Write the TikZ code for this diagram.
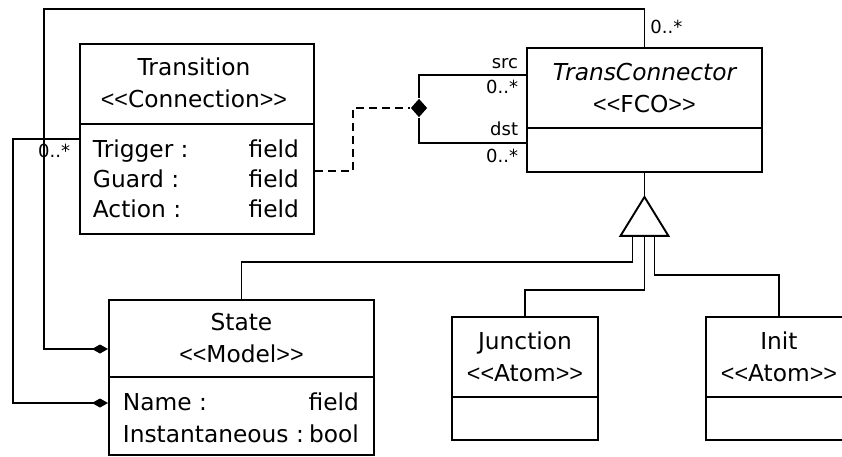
\documentclass[tikz,border=0pt]{standalone}
\usepackage{fontspec}
\setmainfont{DejaVu Sans}[Ligatures=TeXOff]
\newfontfamily\guilfont{Liberation Sans}
\newcommand{\stereo}[1]{{\guilfont<<}#1{\guilfont>>}}
\usetikzlibrary{arrows.meta,calc,shapes.geometric}
\tikzset{
	umlbox/.style={draw,anchor=north west},
	mult/.style={font=\fontsize{18}{20}\selectfont},
	has/.style={-{Diamond[length=16pt,width=9pt]}}
}
\begin{document}
\begin{tikzpicture}[x=1pt,y=-1pt,line width=1.9pt,inner sep=0pt,font=\fontsize{23.3}{30}\selectfont]
	\useasboundingbox (0,0) rectangle (842,456);
	\clip (0,0) rectangle (842,456);
	\node[umlbox,minimum width=234pt,minimum height=190pt] (trans) at (79,43) {};
	\draw ($(trans.north west)+(0,81)$) -- ($(trans.north east)+(0,81)$);
	\node[anchor=base] (trans-name) at ($(trans.north)+(-3,32)$) {Transition};
	\node[anchor=base] (trans-type) at ($(trans.north)+(-3,64)$) {\stereo{Connection}};
	\foreach \f [count=\i] in {Trigger,Guard,Action}{
		\node[anchor=base west] (trans-f\i) at ($(trans.north west)+(13,84+30*\i)$) {\f{} :};
		\node[anchor=base east] (trans-v\i) at ($(trans.north east)+(-15,84+30*\i)$) {field};
	}
	\node[umlbox,minimum width=235pt,minimum height=124pt] (tc) at (526,47) {};
	\draw ($(tc.north west)+(0,81)$) -- ($(tc.north east)+(0,81)$);
	\node[anchor=base] (tc-name) at ($(tc.north)+(0,33)$) {\itshape TransConnector};
	\node[anchor=base] (tc-type) at ($(tc.north)+(0,65)$) {\stereo{FCO}};
	\node[umlbox,minimum width=265pt,minimum height=155pt] (state) at (108,299) {};
	\draw ($(state.north west)+(0,78)$) -- ($(state.north east)+(0,78)$);
	\node[anchor=base] (state-name) at ($(state.north)+(0,31)$) {State};
	\node[anchor=base] (state-type) at ($(state.north)+(0,63)$) {\stereo{Model}};
	\node[anchor=base west] (state-f1) at ($(state.north west)+(14,111)$) {Name :};
	\node[anchor=base east] (state-v1) at ($(state.north east)+(-15,111)$) {field};
	\node[anchor=base west] (state-f2) at ($(state.north west)+(14,143)$) {Instantaneous :};
	\node[anchor=base east] (state-v2) at ($(state.north east)+(-15,143)$) {bool};
	\node[umlbox,minimum width=146pt,minimum height=123pt] (junc) at (451,316) {};
	\draw ($(junc.north west)+(0,81)$) -- ($(junc.north east)+(0,81)$);
	\node[anchor=base] (junc-name) at ($(junc.north)+(0,33)$) {Junction};
	\node[anchor=base] (junc-type) at ($(junc.north)+(0,65)$) {\stereo{Atom}};
	\node[umlbox,minimum width=146pt,minimum height=123pt] (init) at (705,316) {};
	\draw ($(init.north west)+(0,81)$) -- ($(init.north east)+(0,81)$);
	\node[anchor=base] (init-name) at ($(init.north)+(0,33)$) {Init};
	\node[anchor=base] (init-type) at ($(init.north)+(0,65)$) {\stereo{Atom}};

	\coordinate (top-rail) at (44,9);
	\coordinate (left-rail) at (13,403);
	\coordinate (state-in1) at ($(state.north west)+(0,50)$);
	\coordinate (state-in2) at ($(state.north west)+(0,104)$);
	\coordinate (trans-out) at ($(trans.north west)+(0,96)$);
	\draw[has] (tc.north) |- (top-rail) |- (state-in1);
	\draw[has] (trans-out) -| (left-rail) -- (state-in2);
	\node[mult,anchor=base west] (m-top) at ($(tc.north)+(5,-14)$) {0..*};
	\node[mult,anchor=base east] (m-left) at ($(trans-out)+(-8,18)$) {0..*};

	\node[diamond,fill,minimum width=17pt,minimum height=19pt] (assoc) at (419,108) {};
	\coordinate (tc-src) at ($(tc.north west)+(0,28)$);
	\coordinate (tc-dst) at ($(tc.north west)+(0,96)$);
	\draw (tc-src) -| (assoc) |- (tc-dst);
	\node[mult,anchor=base east] (src-role) at ($(tc-src)+(-7,-7)$) {src};
	\node[mult,anchor=base east] (src-mult) at ($(tc-src)+(-7,18)$) {0..*};
	\node[mult,anchor=base east] (dst-role) at ($(tc-dst)+(-7,-8)$) {dst};
	\node[mult,anchor=base east] (dst-mult) at ($(tc-dst)+(-7,19)$) {0..*};
	\draw[dashed,dash pattern=on 8pt off 5pt] ($(trans.north east)+(0,128)$) -| ($(assoc.west)+(-57,0)$) -- (assoc);

	\coordinate (gen-top) at ($(tc.south)+(0,24)$);
	\coordinate (gen-base) at ($(gen-top)+(0,39)$);
	\draw (tc.south) -- (gen-top);
	\draw (gen-top) -- ++(-24,39) -- ++(48,0) -- cycle;
	\draw ($(gen-base)+(-12,0)$) -- ++(0,26) -| (state.north);
	\draw (gen-base) -- ++(0,54) -| (junc.north);
	\draw ($(gen-base)+(10,0)$) -- ++(0,39) -| (init.north);
\end{tikzpicture}
\end{document}
